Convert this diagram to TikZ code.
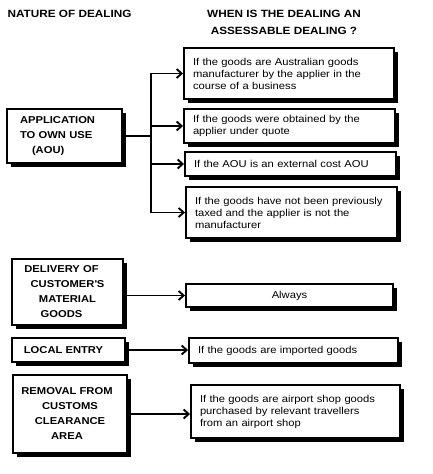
\documentclass[tikz,border=0pt]{standalone}
\usepackage{fontspec}
\setmainfont{Liberation Sans}[FakeStretch=1.12]
\usetikzlibrary{shadows,arrows.meta}

\begin{document}
\begin{tikzpicture}[x=1pt,y=-1pt,
    box/.style={draw, line width=1.9pt, fill=white, inner ysep=0pt,
      drop shadow={shadow xshift=4pt, shadow yshift=-4pt, fill=black, opacity=1}},
    cond/.style={box, inner xsep=9pt, align=left, font=\fontsize{10}{12}\selectfont},
    deal/.style={box, inner xsep=4pt, align=center, font=\bfseries\fontsize{10}{15}\selectfont},
    head/.style={font=\bfseries\fontsize{10.5}{17}\selectfont, align=center},
    conn/.style={line width=1.9pt},
    arr/.style={conn, -{Straight Barb[length=5pt,width=9pt]}}]
    \useasboundingbox (0,0) rectangle (432,474);
    % Headings
    \node[head] (hnature) at (69.5,14) {NATURE OF DEALING};
    \node[head] (hwhen) at (284,22.5) {WHEN IS THE DEALING AN\\ASSESSABLE DEALING ?};
    % Application to own use
    \node[deal, align=left, inner xsep=13pt, text width=89pt, minimum height=54pt] (aou) at (64.5,136)
        {APPLICATION\\TO OWN USE\\\hspace*{12pt}(AOU)};
    \node[cond, text width=192pt, minimum height=51pt] (ausgoods) at (289,73.5)
        {If the goods are Australian goods\\manufacturer by the applier in the\\course of a business};
    \node[cond, text width=193pt, minimum height=34pt] (quote) at (289.5,126)
        {If the goods were obtained by the\\applier under quote};
    \node[cond, text width=193pt, minimum height=24pt] (extcost) at (290.5,164)
        {If the AOU is an external cost AOU};
    \node[cond, text width=193pt, minimum height=51pt] (taxed) at (291.5,212.5)
        {If the goods have not been previously\\taxed and the applier is not the\\manufacturer};
    \coordinate (fork) at (151,136);
    \draw[conn] (aou.east) -- (fork);
    \draw[arr] (fork) |- (ausgoods.west);
    \draw[arr] (fork) |- (quote.west);
    \draw[arr] (fork) |- (extcost.west);
    \draw[arr] (fork) |- (taxed.west);
    % Delivery of customer's material goods
    \node[deal, minimum width=111pt, minimum height=66pt] (delivery) at (67.5,292)
        {DELIVERY OF\hspace*{12pt}\\CUSTOMER\textquotesingle S\hspace*{12pt}\\MATERIAL\hspace*{12pt}\\GOODS\hspace*{12pt}};
    \node[cond, align=center, text width=189pt, minimum height=23pt] (always) at (289.5,295.5) {Always};
    \draw[arr] (delivery.east |- always.west) -- (always.west);
    % Local entry
    \node[deal, minimum width=113pt, minimum height=24pt] (local) at (68.5,350) {LOCAL ENTRY\hspace*{10pt}};
    \node[cond, text width=191pt, minimum height=25pt] (imported) at (293.5,350.5)
        {If the goods are imported goods};
    \draw[arr] (local.east) -- (local.east -| imported.west);
    % Removal from customs clearance area
    \node[deal, minimum width=114pt, minimum height=78pt] (removal) at (70,414)
        {REMOVAL FROM\hspace*{6pt}\\CUSTOMS\hspace*{6pt}\\CLEARANCE\hspace*{6pt}\\AREA\hspace*{6pt}};
    \node[cond, text width=191pt, minimum height=53pt] (airport) at (295.5,411.5)
        {If the goods are airport shop goods\\purchased by relevant travellers\\from an airport shop};
    \draw[arr] (removal.east) -- (removal.east -| airport.west);
\end{tikzpicture}
\end{document}
